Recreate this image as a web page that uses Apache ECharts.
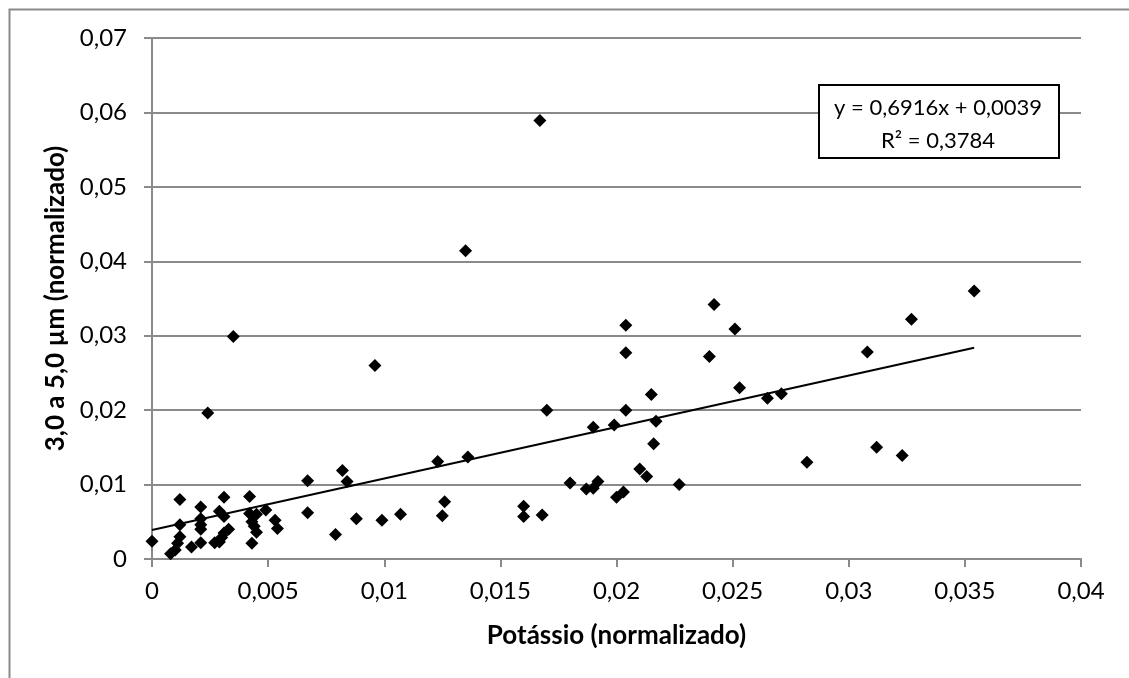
<!DOCTYPE html>
<html>
<head>
<meta charset="utf-8">
<script src="https://cdn.jsdelivr.net/npm/echarts@6/dist/echarts.min.js"></script>
<style>
html,body{margin:0;padding:0;background:#fff;}
#chart{width:1129px;height:678px;}
</style>
</head>
<body>
<div id="chart"></div>
<script>
// Potássio (normalizado)
var xValues = [
  0.0000, 0.0012, 0.0012, 0.0012, 0.0011, 0.0010, 0.0008, 0.0017,
  0.0021, 0.0021, 0.0021, 0.0021, 0.0021, 0.0024,
  0.0027, 0.0029, 0.0029, 0.0030, 0.0031, 0.0031, 0.0031, 0.0033, 0.0035,
  0.0042, 0.0042, 0.0045, 0.0043, 0.0044, 0.0045, 0.0043,
  0.0049, 0.0053, 0.0054,
  0.0067, 0.0067, 0.0079, 0.0082, 0.0084, 0.0088, 0.0096,
  0.0099, 0.0107, 0.0123, 0.0125, 0.0126, 0.0135, 0.0136,
  0.0160, 0.0160, 0.0167, 0.0168, 0.0170,
  0.0180, 0.0187, 0.0190, 0.0192, 0.0190, 0.0199, 0.0200, 0.0203,
  0.0204, 0.0204, 0.0204, 0.0210, 0.0213, 0.0215, 0.0217, 0.0216, 0.0227,
  0.0240, 0.0242, 0.0251, 0.0253, 0.0265, 0.0271, 0.0282,
  0.0308, 0.0312, 0.0323, 0.0327, 0.0354
];
// 3,0 a 5,0 µm (normalizado)
var yValues = [
  0.0024, 0.0080, 0.0046, 0.0030, 0.0021, 0.0012, 0.0007, 0.0016,
  0.0070, 0.0054, 0.0046, 0.0040, 0.0022, 0.0196,
  0.0022, 0.0064, 0.0023, 0.0029, 0.0083, 0.0057, 0.0035, 0.0040, 0.0299,
  0.0084, 0.0061, 0.0060, 0.0050, 0.0044, 0.0036, 0.0021,
  0.0066, 0.0052, 0.0041,
  0.0105, 0.0062, 0.0033, 0.0119, 0.0104, 0.0054, 0.0260,
  0.0052, 0.0060, 0.0131, 0.0058, 0.0077, 0.0414, 0.0137,
  0.0071, 0.0057, 0.0589, 0.0059, 0.0200,
  0.0102, 0.0094, 0.0095, 0.0104, 0.0177, 0.0180, 0.0083, 0.0090,
  0.0314, 0.0277, 0.0200, 0.0121, 0.0111, 0.0221, 0.0185, 0.0155, 0.0100,
  0.0272, 0.0342, 0.0309, 0.0230, 0.0216, 0.0222, 0.0130,
  0.0278, 0.0150, 0.0139, 0.0322, 0.0360
];
var trendSlope = 0.6916;
var trendIntercept = 0.0039;
var trendLabels = ['y = 0,6916x + 0,0039', 'R² = 0,3784'];
var xAxisTitle = 'Potássio (normalizado)';
var yAxisTitle = '3,0 a 5,0 µm (normalizado)';

var points = xValues.map(function (x, i) { return [x, yValues[i]]; });
var xMax = Math.max.apply(null, xValues);
var trend = [[0, trendIntercept], [xMax, trendSlope * xMax + trendIntercept]];

function fmt(v) {
  return String(Number(v.toFixed(4))).replace('.', ',');
}

var FONT = 'Lato, "Open Sans", sans-serif';
var GRAY = '#8a8a8a';

var chart = echarts.init(document.getElementById('chart'), null, {renderer: 'canvas'});
chart.setOption({
  backgroundColor: '#ffffff',
  animation: false,
  grid: {left: 152, right: 48, top: 38, bottom: 119, containLabel: false},
  xAxis: {
    type: 'value', min: 0, max: 0.04, interval: 0.005,
    name: xAxisTitle, nameLocation: 'middle', nameGap: 64,
    nameTextStyle: {fontFamily: FONT, fontWeight: 'bold', fontSize: 26, color: '#000'},
    axisLine: {show: true, onZero: false, lineStyle: {color: GRAY, width: 2}},
    axisTick: {show: true, inside: false, length: 8, lineStyle: {color: GRAY, width: 2}},
    axisLabel: {margin: 20, fontFamily: FONT, fontSize: 24, color: '#000', formatter: fmt},
    splitLine: {show: false}
  },
  yAxis: {
    type: 'value', min: 0, max: 0.07, interval: 0.01,
    name: yAxisTitle, nameLocation: 'middle', nameGap: 79, nameRotate: 90,
    nameTextStyle: {fontFamily: FONT, fontWeight: 'bold', fontSize: 26, color: '#000'},
    axisLine: {show: true, onZero: false, lineStyle: {color: GRAY, width: 2}},
    axisTick: {show: true, inside: false, length: 8, lineStyle: {color: GRAY, width: 2}},
    axisLabel: {margin: 25, fontFamily: FONT, fontSize: 24, color: '#000', formatter: fmt},
    splitLine: {show: true, lineStyle: {color: GRAY, width: 2}}
  },
  series: [
    {
      type: 'scatter', data: points, symbol: 'diamond', symbolSize: 13,
      itemStyle: {color: '#000', opacity: 1}, z: 3
    },
    {
      type: 'line', data: trend, showSymbol: false, symbol: 'none',
      lineStyle: {color: '#000', width: 2}, z: 4, silent: true
    }
  ],
  graphic: [
    {
      type: 'rect', left: 7, top: 7, z: -10, silent: true,
      shape: {width: 1300, height: 900},
      style: {fill: 'none', stroke: GRAY, lineWidth: 2}
    },
    {
      type: 'rect', left: 818, top: 84, z: 10,
      shape: {width: 240, height: 73},
      style: {fill: '#fff', stroke: '#000', lineWidth: 2}
    },
    {
      type: 'text', left: 818, top: 91, z: 11,
      style: {
        text: trendLabels.join('\n'), width: 240, align: 'center',
        x: 120, textAlign: 'center',
        fontFamily: FONT, fontSize: 22, lineHeight: 33, fill: '#000'
      }
    }
  ]
});
</script>
</body>
</html>
